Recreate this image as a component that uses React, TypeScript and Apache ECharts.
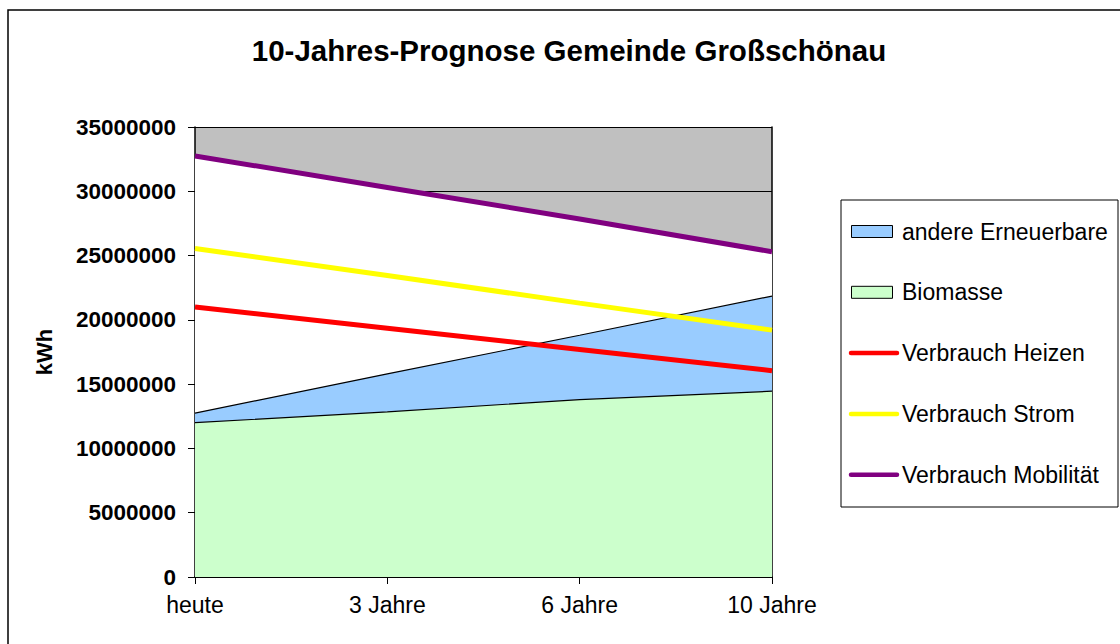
import React, { useEffect, useRef } from "react";
import * as echarts from "echarts";

const categories = ["heute", "3 Jahre", "6 Jahre", "10 Jahre"];
const biomasse = [12000000, 12850000, 13800000, 14450000];
const andereErneuerbare = [750000, 2950000, 5000000, 7400000];
const verbrauchHeizen = [21000000, 19350000, 17700000, 16050000];
const verbrauchStrom = [25550000, 23450000, 21300000, 19200000];
const verbrauchMobilitaet = [32750000, 30300000, 27850000, 25300000];
const yTicks = { min: 0, max: 35000000, interval: 5000000 };

const legendItems = [
  { name: "andere Erneuerbare", kind: "area", color: "#99CCFF" },
  { name: "Biomasse", kind: "area", color: "#CCFFCC" },
  { name: "Verbrauch Heizen", kind: "line", color: "#FF0000" },
  { name: "Verbrauch Strom", kind: "line", color: "#FFFF00" },
  { name: "Verbrauch Mobilität", kind: "line", color: "#800080" },
];

const FONT = "Liberation Sans, Arial, sans-serif";

export default function App() {
  const ref = useRef<HTMLDivElement>(null);
  useEffect(() => {
    if (!ref.current) return;
    const chart = echarts.init(ref.current, null, { renderer: "svg" });

    const legendGraphics: any[] = [
      {
        type: "rect",
        shape: { x: 841, y: 200, width: 277, height: 307 },
        style: { fill: "#fff", stroke: "#000", lineWidth: 1 },
        z: 10,
      },
    ];
    legendItems.forEach((it, i) => {
      const cy = 231.5 + i * 60.8;
      if (it.kind === "area") {
        legendGraphics.push({
          type: "rect",
          shape: { x: 851.5, y: cy - 6, width: 41, height: 12 },
          style: { fill: it.color, stroke: "#000", lineWidth: 1 },
          z: 11,
        });
      } else {
        legendGraphics.push({
          type: "line",
          shape: { x1: 851, y1: cy, x2: 897, y2: cy },
          style: { stroke: it.color, lineWidth: 4.5, lineCap: "round" },
          z: 11,
        });
      }
      legendGraphics.push({
        type: "text",
        x: 902,
        y: cy,
        style: {
          text: it.name,
          fill: "#000",
          font: `23px ${FONT}`,
          textVerticalAlign: "middle",
          textAlign: "left",
        },
        z: 11,
      });
    });

    const areaLine = { color: "#000", width: 1.2 };

    chart.setOption({
      animation: false,
      backgroundColor: "#fff",
      title: {
        text: "10-Jahres-Prognose Gemeinde Großschönau",
        left: 564,
        top: 30,
        textAlign: "center",
        textStyle: { fontFamily: FONT, fontSize: 29.5, fontWeight: "bold", color: "#000" },
      },
      grid: {
        left: 195,
        right: 348,
        top: 127,
        bottom: 67,
        show: true,
        backgroundColor: "#C0C0C0",
        borderWidth: 0,
      },
      xAxis: {
        type: "category",
        data: categories,
        boundaryGap: false,
        axisLine: { show: true, lineStyle: { color: "#000", width: 1.5 } },
        axisTick: { show: true, inside: false, length: 7, lineStyle: { color: "#000" } },
        axisLabel: { color: "#000", fontFamily: FONT, fontSize: 23, margin: 16 },
        splitLine: { show: false },
      },
      yAxis: [
        {
          type: "value",
          min: yTicks.min,
          max: yTicks.max,
          interval: yTicks.interval,
          name: "kWh",
          nameLocation: "middle",
          nameGap: 140,
          nameRotate: 90,
          nameTextStyle: { color: "#000", fontFamily: FONT, fontSize: 22, fontWeight: "bold" },
          axisLine: { show: true, lineStyle: { color: "#000", width: 1.5 } },
          axisTick: { show: true, inside: false, length: 7, lineStyle: { color: "#000" } },
          axisLabel: {
            color: "#000",
            fontFamily: FONT,
            fontSize: 22.5,
            fontWeight: "bold",
            margin: 19,
            formatter: (v: number) => String(v),
          },
          splitLine: { show: true, lineStyle: { color: "#000", width: 1 } },
        },
        {
          type: "value",
          position: "right",
          min: yTicks.min,
          max: yTicks.max,
          interval: yTicks.interval,
          axisLine: { show: true, lineStyle: { color: "#000", width: 1.5 } },
          axisTick: { show: false },
          axisLabel: { show: false },
          splitLine: { show: false },
        },
      ],
      series: [
        {
          name: "Hintergrund",
          type: "line",
          data: verbrauchMobilitaet,
          showSymbol: false,
          silent: true,
          lineStyle: { width: 0, color: "#fff" },
          areaStyle: { color: "#fff", opacity: 1 },
          z: 1,
        },
        {
          name: "Biomasse",
          type: "line",
          stack: "erzeugung",
          data: biomasse,
          showSymbol: false,
          lineStyle: areaLine,
          itemStyle: { color: "#CCFFCC" },
          areaStyle: { color: "#CCFFCC", opacity: 1 },
          z: 2,
        },
        {
          name: "andere Erneuerbare",
          type: "line",
          stack: "erzeugung",
          data: andereErneuerbare,
          showSymbol: false,
          lineStyle: areaLine,
          itemStyle: { color: "#99CCFF" },
          areaStyle: { color: "#99CCFF", opacity: 1 },
          z: 2,
        },
        {
          name: "Verbrauch Heizen",
          type: "line",
          data: verbrauchHeizen,
          showSymbol: false,
          lineStyle: { color: "#FF0000", width: 5 },
          itemStyle: { color: "#FF0000" },
          z: 3,
        },
        {
          name: "Verbrauch Strom",
          type: "line",
          data: verbrauchStrom,
          showSymbol: false,
          lineStyle: { color: "#FFFF00", width: 5 },
          itemStyle: { color: "#FFFF00" },
          z: 3,
        },
        {
          name: "Verbrauch Mobilität",
          type: "line",
          data: verbrauchMobilitaet,
          showSymbol: false,
          lineStyle: { color: "#800080", width: 5 },
          itemStyle: { color: "#800080" },
          z: 3,
        },
      ],
      graphic: [
        {
          type: "rect",
          shape: { x: 8, y: 10, width: 1200, height: 800 },
          style: { fill: "none", stroke: "#000", lineWidth: 1.5 },
          silent: true,
          z: 20,
        },
        ...legendGraphics,
      ],
    });
    return () => chart.dispose();
  }, []);
  return (
    <div
      ref={ref}
      style={{ position: "fixed", left: 0, top: 0, width: 1120, height: 644 }}
    />
  );
}
